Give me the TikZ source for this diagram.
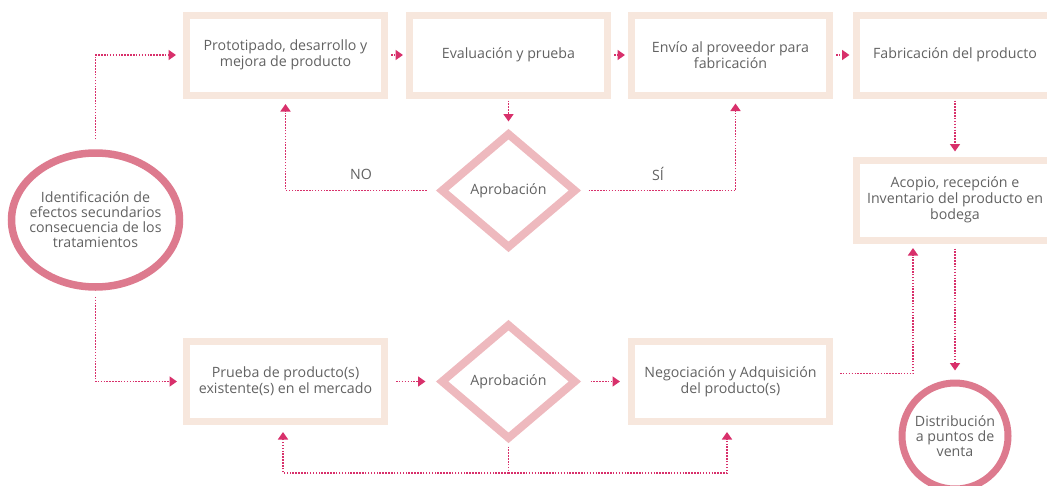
\documentclass[tikz,border=0pt]{standalone}
\usepackage{fontspec}
\setmainfont{Open Sans}
\usetikzlibrary{shapes.geometric,arrows.meta}
\definecolor{boxc}{RGB}{247,231,221}
\definecolor{diac}{RGB}{238,185,190}
\definecolor{ringc}{RGB}{221,122,142}
\definecolor{arrc}{RGB}{216,48,107}
\definecolor{txtc}{RGB}{98,98,98}

\begin{document}
\begin{tikzpicture}[x=1pt,y=-1pt,
	every node/.style={text=txtc,font=\fontsize{14.2}{16}\selectfont,align=center},
	stepbox/.style={draw=boxc,line width=7pt,minimum width=198pt,minimum height=80pt},
	check/.style={diamond,draw=diac,line width=8pt,minimum width=136pt,minimum height=116pt,inner sep=0pt},
	ring/.style={draw=ringc,line width=7.5pt,inner sep=0pt},
	flow/.style={draw=arrc,line width=1.7pt,dash pattern=on 1.5pt off 1.4pt,-{Triangle[length=7.5pt,width=10pt]}}]
	\useasboundingbox (0,0) rectangle (1047,485);
	\clip (0,0) rectangle (1047,485);
	\newcommand {\toprow}{55}
	\newcommand {\lowrow}{381.5}

	% start and end
	\node[ring,ellipse,minimum width=168pt,minimum height=134pt,inner xsep=-40pt,font=\fontsize{14.2}{15}\selectfont] (ident) at (95.5,220) {Identificación de\\efectos secundarios\\consecuencia de los\\tratamientos};
	\node[ring,circle,minimum size=106pt,inner sep=-8pt,line width=7pt,font=\fontsize{14.2}{15}\selectfont] (dist) at (955,436) {Distribución\\a puntos de\\venta};

	% top row
	\node[stepbox] (proto) at (285.5,\toprow) {Prototipado, desarrollo y\\mejora de producto};
	\node[stepbox] (eval) at (508.5,\toprow) {Evaluación y prueba};
	\node[stepbox] (envio) at (730.5,\toprow) {Envío al proveedor para\\fabricación};
	\node[stepbox] (fab) at (955,\toprow) {Fabricación del producto};
	\node[stepbox] (acopio) at (955,200) {Acopio, recepción e\\Inventario del producto en\\bodega};
	\node[check] (apr1) at (508.5,190.5) {Aprobación};

	% bottom row
	\node[stepbox] (prueba) at (285.5,\lowrow) {Prueba de producto(s)\\existente(s) en el mercado};
	\node[check] (apr2) at (508.5,\lowrow) {Aprobación};
	\node[stepbox] (nego) at (730.5,\lowrow) {Negociación y Adquisición\\del producto(s)};
	\coordinate (low) at (508.5,473);

	% links
	\draw[flow,shorten <=10pt,shorten >=7pt] (ident.north) |- (proto.west);
	\draw[flow,shorten <=3pt,shorten >=3pt] (proto.east) -- (eval.west);
	\draw[flow,shorten <=3pt,shorten >=3pt] (eval.east) -- (envio.west);
	\draw[flow,shorten <=3pt,shorten >=3pt] (envio.east) -- (fab.west);
	\draw[flow,shorten <=2pt,shorten >=7pt] (eval.south) -- (apr1.north);
	\draw[flow,shorten <=10pt,shorten >=5.5pt] (apr1.west) -| (proto.south);
	\draw[flow,shorten <=8pt,shorten >=5pt] (apr1.east) -| ([xshift=5pt]envio.south);
	\node at (361,174) {NO};
	\node at (658,174) {SÍ};
	\draw[flow,shorten <=2pt,shorten >=5pt] (fab.south) -- (acopio.north);
	\draw[flow,shorten <=5pt,shorten >=9pt] (acopio.south) -- (dist.north);

	\draw[flow,shorten <=6pt,shorten >=6pt] (ident.south) |- (prueba.west);
	\draw[flow,shorten <=8pt,shorten >=11pt] (prueba.east) -- (apr2.west);
	\draw[flow,shorten <=10pt,shorten >=8pt] (apr2.east) -- (nego.west);
	\draw[flow,shorten <=7pt,shorten >=4.5pt] ([yshift=8pt]nego.east) -| ([xshift=-42pt]acopio.south);
	\draw[flow,-,shorten <=3pt] (apr2.south) -- (low);
	\draw[flow,shorten >=7pt] (low) -| ([xshift=-2.5pt]prueba.south);
	\draw[flow,shorten >=7pt] (low) -| ([xshift=-3.5pt]nego.south);

\end{tikzpicture}
\end{document}
